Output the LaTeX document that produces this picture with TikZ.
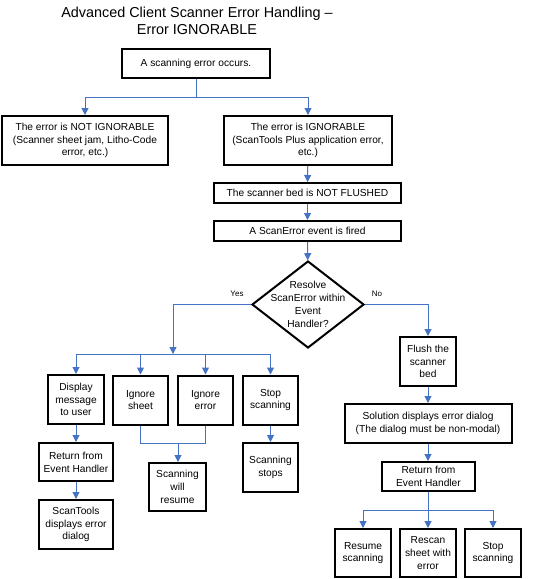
\documentclass[tikz,border=0pt]{standalone}
\usepackage{fontspec}
\setmainfont{Liberation Sans}
\usepackage{tikz}
\usetikzlibrary{arrows.meta,shapes.geometric}
\definecolor{linkblue}{RGB}{68,114,196}
\begin{document}
\begin{tikzpicture}[x=1pt,y=-1pt]
\tikzstyle{every node}=[font=\fontsize{10.2}{12.8}\selectfont, align=center, inner sep=0pt]
\tikzstyle{box}=[draw, line width=2pt, shape=rectangle]
\tikzstyle{link}=[draw=linkblue, line width=1pt, -{Triangle[length=7pt,width=7pt]}]
\tikzstyle{line}=[draw=linkblue, line width=1pt]
\useasboundingbox (0,0) rectangle (541,579);
\node at (197,21) [font=\fontsize{14.4}{17}\selectfont] (title) {Advanced Client Scanner Error Handling --\\Error IGNORABLE};
\node at (196,63.5) [box, minimum width=148pt, minimum height=29pt] (occurs) {A scanning error occurs.};
\node at (85,140.5) [box, minimum width=166pt, minimum height=49pt] (notign) {The error is NOT IGNORABLE\\(Scanner sheet jam, Litho-Code\\error, etc.)};
\node at (308,140.5) [box, minimum width=168pt, minimum height=49pt] (ign) {The error is IGNORABLE\\(ScanTools Plus application error,\\etc.)};
\node at (307.5,193) [box, minimum width=187pt, minimum height=20pt] (notflush) {The scanner bed is NOT FLUSHED};
\node at (307.5,231) [box, minimum width=187pt, minimum height=20pt] (fired) {A ScanError event is fired};
\node at (308,304.5) [draw, line width=2pt, shape=diamond, minimum width=112pt, minimum height=87pt] (resolve) {};
\node at (resolve.center) (resolvetext) {Resolve\\ScanError within\\Event\\Handler?};
\node at (237,294) [font=\fontsize{8}{9}\selectfont] (yes) {Yes};
\node at (377,294) [font=\fontsize{8}{9}\selectfont] (no) {No};
% yes branch
\node at (76,399.5) [box, minimum width=56pt, minimum height=49pt] (display) {Display\\message\\to user};
\node at (140.5,400) [box, minimum width=55pt, minimum height=49pt] (sheet) {Ignore\\sheet};
\node at (205.5,400) [box, minimum width=55pt, minimum height=49pt] (errign) {Ignore\\error};
\node at (270.5,400) [box, minimum width=55pt, minimum height=49pt] (stopA) {Stop\\scanning};
\node at (76,462) [box, minimum width=74pt, minimum height=38pt] (returnA) {Return from\\Event Handler};
\node at (76,524.5) [box, minimum width=74pt, minimum height=49pt] (scantools) {ScanTools\\displays error\\dialog};
\node at (177.5,487) [box, minimum width=57pt, minimum height=48pt] (willresume) {Scanning\\will\\resume};
\node at (270.5,467.5) [box, minimum width=55pt, minimum height=49pt] (stops) {Scanning\\stops};
% no branch
\node at (428,361.5) [box, minimum width=56pt, minimum height=49pt] (flush) {Flush the\\scanner\\bed};
\node at (428,423.5) [box, minimum width=167pt, minimum height=39pt] (solution) {Solution displays error dialog\\(The dialog must be non-modal)};
\node at (428.5,476.5) [box, minimum width=93pt, minimum height=29pt] (returnB) {Return from\\Event Handler};
\node at (363,553) [box, minimum width=56pt, minimum height=48pt] (resumeB) {Resume\\scanning};
\node at (428,553) [box, minimum width=56pt, minimum height=48pt] (rescan) {Rescan\\sheet with\\error};
\node at (493,553) [box, minimum width=56pt, minimum height=48pt] (stopB) {Stop\\scanning};
\coordinate (topbar) at (196,97);
\coordinate (yesbar) at (173,354);
\coordinate (ignjoin) at (178,443);
\coordinate (retbar) at (428,510);
\draw[line] (occurs.south) -- (topbar);
\draw[link] (topbar) -| (notign.north);
\draw[link] (topbar) -| (ign.north);
\draw[link] (ign) -- (notflush);
\draw[link] (notflush) -- (fired);
\draw[link] (fired) -- (resolve);
\draw[link] (resolve.west) -| (yesbar);
\draw[link] (yesbar) -| (display.north);
\draw[link] (yesbar) -| (sheet.north);
\draw[link] (yesbar) -| (errign.north);
\draw[link] (yesbar) -| (stopA.north);
\draw[link] (display) -- (returnA);
\draw[link] (returnA) -- (scantools);
\draw[line] (sheet.south) |- (ignjoin);
\draw[line] (errign.south) |- (ignjoin);
\draw[link] (ignjoin) -- (ignjoin |- willresume.north);
\draw[link] (stopA) -- (stops);
\draw[link] (resolve.east) -| (flush.north);
\draw[link] (flush) -- (solution);
\draw[link] (solution) -- (returnB.north -| solution.south);
\draw[line] (returnB.south -| retbar) -- (retbar);
\draw[link] (retbar) -| (resumeB.north);
\draw[link] (retbar) -- (rescan.north);
\draw[link] (retbar) -| (stopB.north);
\end{tikzpicture}
\end{document}
